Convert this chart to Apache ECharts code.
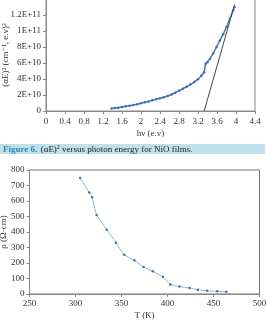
<!DOCTYPE html>
<html>
<head>
<meta charset="utf-8">
<script src="https://cdn.jsdelivr.net/npm/echarts@6/dist/echarts.min.js"></script>
<style>
  html, body { margin: 0; padding: 0; background: #fff; }
  #chart { width: 266px; height: 320px; }
</style>
</head>
<body>
<div id="chart"></div>
<script>
// top chart: (aE)^2 vs photon energy
const hvValues = [1.38, 1.45, 1.52, 1.60, 1.68, 1.76, 1.84, 1.92, 2.00, 2.08, 2.16, 2.24, 2.32, 2.40, 2.48, 2.56,
  2.64, 2.72, 2.80, 2.88, 2.96, 3.04, 3.12, 3.20, 3.27, 3.33, 3.36, 3.40, 3.45, 3.52, 3.59, 3.66, 3.73, 3.80,
  3.87, 3.94, 3.97];
const aE2Values = [0.30e10, 0.36e10, 0.42e10, 0.50e10, 0.58e10, 0.66e10, 0.75e10, 0.85e10, 0.96e10, 1.08e10,
  1.20e10, 1.34e10, 1.48e10, 1.60e10, 1.72e10, 1.88e10, 2.06e10, 2.28e10, 2.52e10, 2.78e10, 3.03e10, 3.30e10,
  3.62e10, 3.98e10, 4.40e10, 4.85e10, 5.90e10, 6.10e10, 6.50e10, 7.20e10, 8.00e10, 8.80e10, 9.60e10, 10.5e10,
  11.5e10, 12.6e10, 13.0e10];
const fitLine = [[3.33, 0], [3.97, 1.33e11]];
const topYTicks = ['0', '2E+10', '4E+10', '6E+10', '8E+10', '1E+11', '1.2E+11', '1.4E+11'];

// bottom chart: resistivity vs temperature
const tempValues = [305, 315, 318, 323, 334, 344, 353, 364, 374, 384, 395, 403, 413, 424, 433, 443, 454, 464];
const rhoValues = [748, 655, 625, 510, 415, 331, 253, 217, 174, 146, 110, 62, 48, 39, 28, 21, 17, 14];

const serif = '"Liberation Serif", "DejaVu Serif", serif';
const labelStyle = { fontFamily: serif, fontSize: 9, color: '#333' };
const axisLine = { lineStyle: { color: '#888', width: 1 } };

const chart = echarts.init(document.getElementById('chart'));

const option = {
  animation: false,
  grid: [
    { left: 46, right: 11, top: -1, bottom: 209, outerBoundsMode: 'none', containLabel: false,
      show: true, borderColor: '#888', borderWidth: 1, backgroundColor: 'transparent' },
    { left: 29.5, right: 6.5, top: 170, bottom: 26, outerBoundsMode: 'none', containLabel: false,
      show: true, borderColor: '#777', borderWidth: 1, backgroundColor: 'transparent' }
  ],
  xAxis: [
    {
      gridIndex: 0, type: 'value', min: 0, max: 4.4, interval: 0.4,
      name: 'hν (e.v)', nameLocation: 'middle', nameGap: 18, nameMoveOverlap: false, nameTextStyle: labelStyle,
      axisLine: axisLine, axisTick: { show: true, length: 3, lineStyle: { color: '#888' } },
      axisLabel: Object.assign({ margin: 6 }, labelStyle),
      splitLine: { show: false }
    },
    {
      gridIndex: 1, type: 'value', min: 250, max: 500, interval: 50,
      name: 'T (K)', nameLocation: 'middle', nameGap: 17, nameMoveOverlap: false, nameTextStyle: labelStyle,
      axisLine: axisLine, axisTick: { show: true, length: 3, lineStyle: { color: '#888' } },
      axisLabel: Object.assign({ margin: 5 }, labelStyle),
      splitLine: { show: false }
    }
  ],
  yAxis: [
    {
      gridIndex: 0, type: 'value', min: 0, max: 1.4e11, interval: 2e10,
      name: '(αE)² (cm⁻¹, e.v)²', nameLocation: 'middle', nameGap: 36, nameMoveOverlap: false, nameTextStyle: labelStyle,
      axisLine: Object.assign({ show: true }, axisLine), axisTick: { show: true, length: 3, lineStyle: { color: '#888' } },
      axisLabel: Object.assign({ margin: 5, showMaxLabel: false, formatter: (v, i) => topYTicks[i] }, labelStyle),
      splitLine: { show: false }
    },
    {
      gridIndex: 1, type: 'value', min: 0, max: 800, interval: 100,
      name: 'ρ (Ω·cm)', nameLocation: 'middle', nameGap: 21, nameMoveOverlap: false, nameTextStyle: labelStyle,
      axisLine: Object.assign({ show: true }, axisLine), axisTick: { show: true, length: 3, lineStyle: { color: '#888' } },
      axisLabel: Object.assign({ margin: 5 }, labelStyle),
      splitLine: { show: false }
    }
  ],
  graphic: [
    {
      type: 'rect', left: 0, top: 144, shape: { width: 265, height: 10 },
      style: { fill: '#bfe0ea' }, silent: true
    },
    {
      type: 'text', left: 3, top: 144,
      style: {
        text: '{f|Figure 6.} {t|(αE)}{s|2}{t| versus photon energy for NiO films.}',
        rich: {
          f: { fontFamily: serif, fontSize: 9, fill: '#2f8cb0', fontWeight: 'bold', lineHeight: 10 },
          t: { fontFamily: serif, fontSize: 9, fill: '#222', lineHeight: 10 },
          s: { fontFamily: serif, fontSize: 6, fill: '#222', verticalAlign: 'top', lineHeight: 10 }
        }
      }
    }
  ],
  series: [
    {
      type: 'line', xAxisIndex: 0, yAxisIndex: 0,
      data: hvValues.map((h, i) => [h, aE2Values[i]]),
      symbol: 'circle', symbolSize: 2.5,
      lineStyle: { color: '#4a78c0', width: 1.5 },
      itemStyle: { color: '#3f6db5' }
    },
    {
      type: 'line', xAxisIndex: 0, yAxisIndex: 0,
      data: fitLine, symbol: 'none',
      lineStyle: { color: '#444', width: 1 }
    },
    {
      type: 'line', xAxisIndex: 1, yAxisIndex: 1,
      data: tempValues.map((t, i) => [t, rhoValues[i]]),
      smooth: 0.2, symbol: 'circle', symbolSize: 2.5,
      lineStyle: { color: '#8fb2e0', width: 1 },
      itemStyle: { color: '#4a6fae' }
    }
  ]
};

chart.setOption(option);
</script>
</body>
</html>
